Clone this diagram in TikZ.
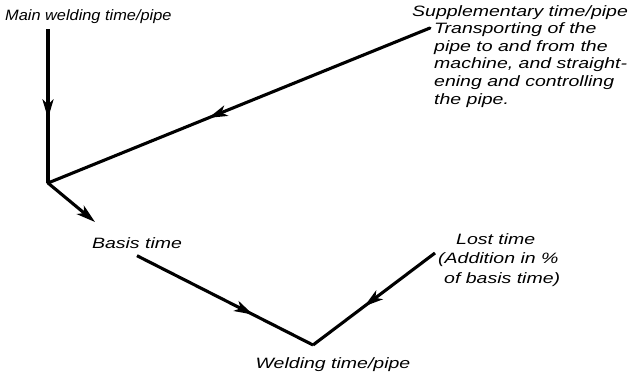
\documentclass[tikz,border=0pt]{standalone}
\usepackage{fontspec}
\setmainfont{Liberation Sans}
\newfontfamily\handmid[FakeStretch=1.3]{Liberation Sans}
\newfontfamily\handmain[FakeStretch=1.09]{Liberation Sans}
\usetikzlibrary{decorations.markings,arrows.meta}
\tikzset{mytip/.tip={Stealth[length=19pt,width=11pt,inset=5pt]}}
\begin{document}
\begin{tikzpicture}[x=1pt,y=-1pt,
  lbl/.style={font=\handmid\fontsize{15}{17.6}\selectfont\itshape, inner sep=0pt, align=left},
  flow/.style={line width=3.1pt},
  midarrow/.style={flow, decoration={markings, mark=at position #1 with {\arrow{mytip}}}, postaction={decorate}},
  endarrow/.style={flow, -{mytip}}
]
\useasboundingbox (0,0) rectangle (631,375);
\node[lbl, font=\handmain\fontsize{15}{17.6}\selectfont\itshape, anchor=west] (main) at (5,17) {Main welding time/pipe};
\node[lbl, anchor=north west] (supp) at (412,5) {Supplementary time/pipe\\
\hspace*{22pt}Transporting of the\\
\hspace*{22pt}pipe to and from the\\
\hspace*{22pt}machine, and straight-\\
\hspace*{22pt}ening and controlling\\
\hspace*{22pt}the pipe.};
\node[lbl] (basis) at (137,243) {Basis time};
\node[lbl] (weld) at (333,365) {Welding time/pipe};
\node[lbl, anchor=north west, font=\handmid\fontsize{15}{19.5}\selectfont\itshape] (lost) at (438,233) {\hspace*{18pt}Lost time\\(Addition in \%\\\hspace*{6pt}of basis time)};
\coordinate (c1) at (48,183);
\coordinate (c2) at (313,345);
\coordinate (s1) at (430,28);
\coordinate (l1) at (435,253);
\coordinate (b1) at (95,222);
\draw[midarrow=0.58] (c1 |- main.south) ++(0,5) -- (c1);
\draw[midarrow=0.58, line cap=round] (s1) -- (c1);
\draw[endarrow] (c1) -- (b1);
\draw[midarrow=0.66] (basis.south) ++(0,7) -- (c2);
\draw[midarrow=0.58, line join=miter] (l1) -- (c2);
\end{tikzpicture}
\end{document}
